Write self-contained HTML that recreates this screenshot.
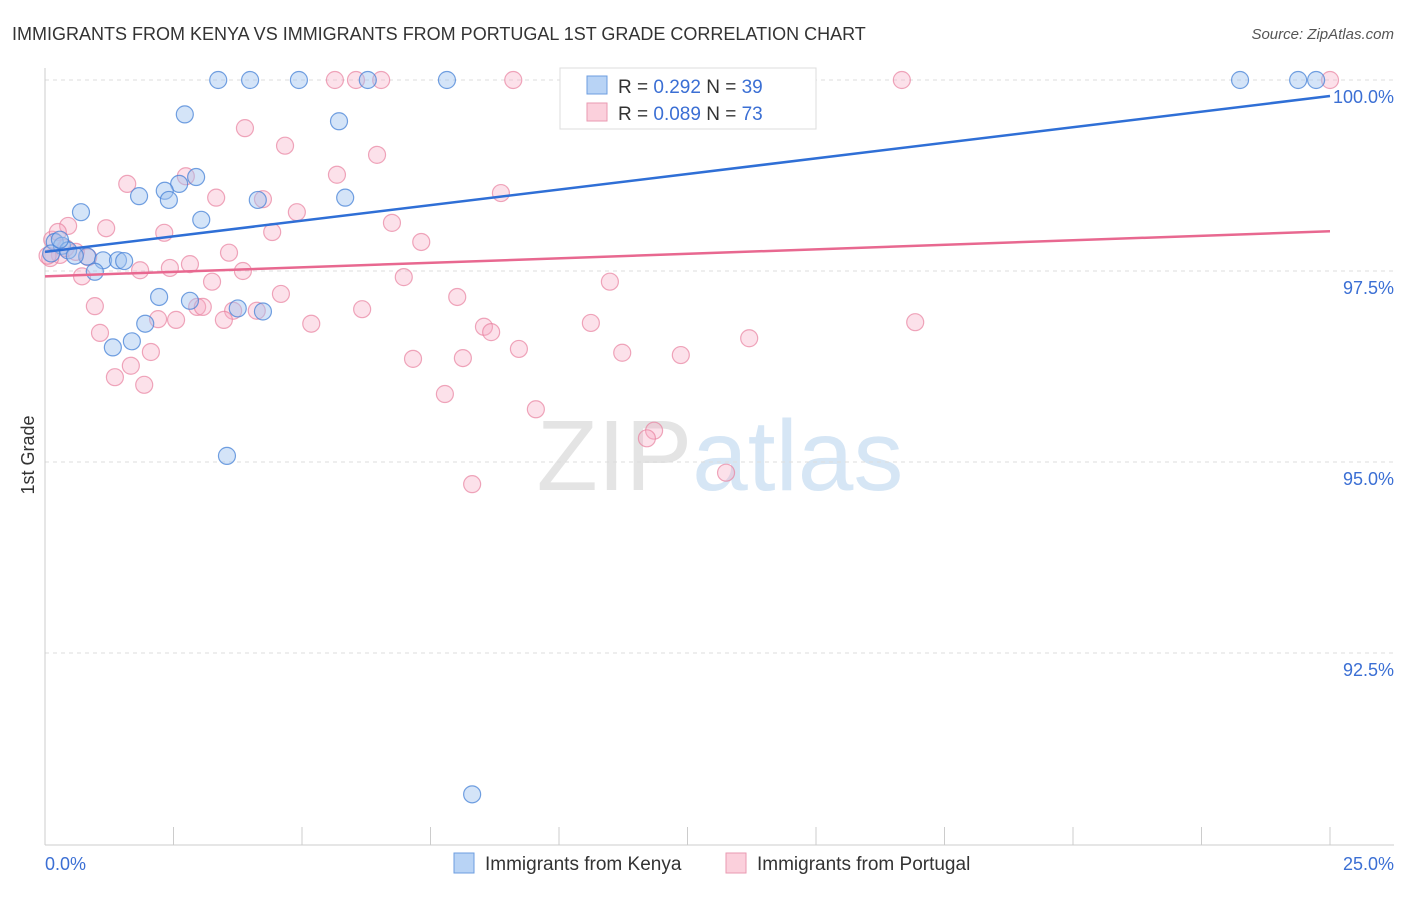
<!DOCTYPE html>
<html><head><meta charset="utf-8"><style>
body{margin:0;background:#fff;font-family:"Liberation Sans",sans-serif}
svg text{font-family:"Liberation Sans",sans-serif}
</style></head><body>
<svg id="c" width="1406" height="892">
<text x="12" y="40" font-size="18" fill="#333">IMMIGRANTS FROM KENYA VS IMMIGRANTS FROM PORTUGAL 1ST GRADE CORRELATION CHART</text>
<text x="1394" y="39" font-size="15" fill="#555" font-style="italic" text-anchor="end">Source: ZipAtlas.com</text>
<text x="720" y="490" font-size="100" fill="#e4e4e4" text-anchor="middle" font-family="Liberation Serif"><tspan>ZIP</tspan><tspan fill="#d6e6f5" font-family="Liberation Sans">atlas</tspan></text>
<g id="grid"></g><g id="pts"></g><g id="lines"></g>
<text x="34" y="455" font-size="18" fill="#333" transform="rotate(-90 34 455)" text-anchor="middle">1st Grade</text>
<text x="45" y="870" font-size="18" fill="#3b6fd4">0.0%</text>
<text x="1394" y="870" font-size="18" fill="#3b6fd4" text-anchor="end">25.0%</text>
<g>
<rect x="560" y="68" width="256" height="61" fill="#fff" stroke="#ddd"/>
<rect x="587" y="76" width="20" height="18" fill="#b8d3f5" stroke="#6c9ee0"/>
<rect x="587" y="103" width="20" height="18" fill="#fbd0dc" stroke="#ea9ab2"/>
<text x="618" y="93" font-size="19" fill="#333">R = <tspan fill="#3b6fd4">0.292</tspan>   N = <tspan fill="#3b6fd4">39</tspan></text>
<text x="618" y="120" font-size="19" fill="#333">R = <tspan fill="#3b6fd4">0.089</tspan>   N = <tspan fill="#3b6fd4">73</tspan></text>
</g>
<g>
<rect x="454" y="853" width="20" height="20" fill="#b8d3f5" stroke="#6c9ee0"/>
<text x="485" y="870" font-size="19" fill="#333">Immigrants from Kenya</text>
<rect x="726" y="853" width="20" height="20" fill="#fbd0dc" stroke="#ea9ab2"/>
<text x="757" y="870" font-size="19" fill="#333">Immigrants from Portugal</text>
</g>
</svg>
<script>
const kenyaX=[3.37,3.99,4.94,6.28,7.82,23.25,24.38,24.73,2.72,5.72,2.94,2.61,1.83,2.33,2.41,4.14,5.84,0.70,3.04,0.19,0.33,0.45,0.12,0.82,1.13,1.42,1.54,0.97,2.22,2.82,3.75,4.24,1.95,1.69,1.32,3.54,8.31,0.29,0.58];
const kenyaY=[100,100,100,100,100,100,100,100,99.55,99.46,98.73,98.64,98.48,98.55,98.43,98.43,98.46,98.27,98.17,97.88,97.83,97.77,97.73,97.69,97.64,97.64,97.63,97.49,97.16,97.11,97.01,96.97,96.81,96.58,96.50,95.08,90.65,97.91,97.70];
const portX=[5.64,6.05,6.54,9.11,14.11,16.67,25.0,3.89,4.67,6.46,2.74,5.68,1.60,8.87,3.33,4.24,4.90,6.75,1.19,0.45,2.32,4.42,7.32,3.58,0.29,0.84,2.82,1.85,2.43,3.85,0.72,6.98,3.25,10.99,4.59,8.02,0.97,2.96,3.07,3.66,4.12,6.17,2.20,2.55,3.48,5.18,10.62,16.93,8.54,8.68,1.07,13.70,2.06,9.22,11.23,12.37,7.16,8.13,1.67,1.36,1.93,7.78,9.55,11.85,11.71,13.25,8.31,0.10,0.14,0.25,0.05,0.4,0.6];
const portY=[100,100,100,100,100,100,100,99.37,99.14,99.02,98.74,98.76,98.64,98.52,98.46,98.44,98.27,98.13,98.06,98.09,98.00,98.01,97.88,97.74,97.71,97.68,97.59,97.51,97.54,97.50,97.43,97.42,97.36,97.36,97.20,97.16,97.04,97.03,97.03,96.98,96.98,97.00,96.87,96.86,96.86,96.81,96.82,96.83,96.77,96.70,96.69,96.62,96.44,96.48,96.43,96.40,96.35,96.36,96.26,96.11,96.01,95.89,95.69,95.41,95.31,94.86,94.71,97.67,97.91,98.01,97.70,97.80,97.75];
const kenyaTrend=[97.75,99.79];
const portTrend=[97.43,98.02];
const yTicks=[100,97.5,95,92.5];
const yTickLabels=["100.0%","97.5%","95.0%","92.5%"];
const xTicks=[0,2.5,5,7.5,10,12.5,15,17.5,20,22.5,25];
const NS="http://www.w3.org/2000/svg";
const sx=v=>45+v*51.4, sy=v=>80+(100-v)*76.4;
function mk(t,a,p){const e=document.createElementNS(NS,t);for(const k in a)e.setAttribute(k,a[k]);p.appendChild(e);return e;}
const g=document.getElementById('grid');
yTicks.forEach((v,i)=>{
 const l=mk('line',{x1:45,x2:1394,y1:sy(v),y2:sy(v),stroke:'#ddd','stroke-dasharray':'4,4'},g);
 
 
 const t=mk('text',{x:1394,y:sy(v)+23,'font-size':18,fill:'#3b6fd4','text-anchor':'end'},g);
 t.textContent=yTickLabels[i];
 
 
});
const ax=mk('line',{x1:45,x2:45,y1:68,y2:845,stroke:'#ccc'},g);


const bx=mk('line',{x1:45,x2:1394,y1:845,y2:845,stroke:'#ccc'},g);


xTicks.forEach(v=>{
 const l=mk('line',{x1:sx(v),x2:sx(v),y1:827,y2:845,stroke:'#ccc'},g);
 
 
});
const p=document.getElementById('pts');
portX.forEach((x,i)=>{
 const c=mk('circle',{cx:sx(x),cy:sy(portY[i]),r:8.5,fill:'rgba(246,170,195,0.35)',stroke:'rgba(232,130,160,0.7)','stroke-width':1.2},p);
 
 
});
kenyaX.forEach((x,i)=>{
 const c=mk('circle',{cx:sx(x),cy:sy(kenyaY[i]),r:8.5,fill:'rgba(160,195,240,0.45)',stroke:'rgba(70,130,215,0.75)','stroke-width':1.2},p);
 
 
});
const L=document.getElementById('lines');
const kl=mk('line',{x1:sx(0),x2:sx(25),y1:sy(kenyaTrend[0]),y2:sy(kenyaTrend[1]),stroke:'#2f6fd6','stroke-width':2.5},L);


const pl=mk('line',{x1:sx(0),x2:sx(25),y1:sy(portTrend[0]),y2:sy(portTrend[1]),stroke:'#e86890','stroke-width':2.5},L);


</script>
</body></html>
